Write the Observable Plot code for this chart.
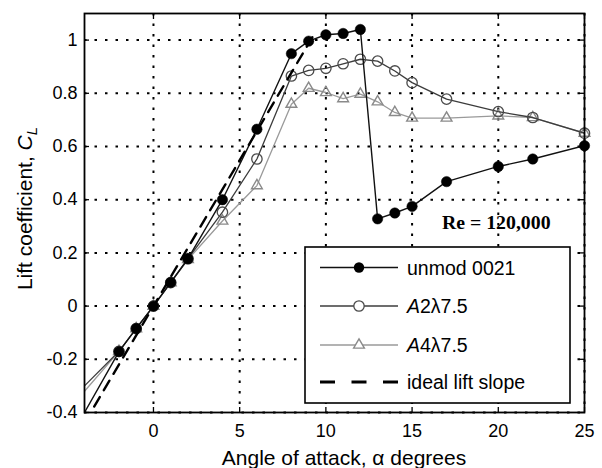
<!DOCTYPE html>
<html><head><meta charset="utf-8">
<script src="https://cdn.jsdelivr.net/npm/d3@7"></script>
<script src="https://cdn.jsdelivr.net/npm/@observablehq/plot@0.6"></script>
<style>
body{margin:0;background:#fff}
svg{font-family:"Liberation Sans",Arial,Helvetica,sans-serif}
</style>
</head><body><div id="chart"></div>
<script>
// angle of attack (deg); -4 is where the lines leave the axes (no marker there)
const alpha  = [-4, -2, -1, 0, 1, 2, 4, 6, 8, 9, 10, 11, 12, 13, 14, 15, 17, 20, 22, 25];
const unmod  = [-0.40, -0.171, -0.084, 0, 0.089, 0.178, 0.40, 0.665, 0.949, 0.996, 1.02, 1.025, 1.04, 0.328, 0.35, 0.375, 0.468, 0.525, 0.553, 0.603];
const a2     = [-0.30, -0.170, -0.085, 0, 0.088, 0.178, 0.353, 0.553, 0.865, 0.886, 0.894, 0.911, 0.928, 0.921, 0.884, 0.84, 0.778, 0.731, 0.709, 0.650];
const a4     = [-0.32, -0.170, -0.085, 0, 0.088, 0.175, 0.32, 0.453, 0.759, 0.819, 0.803, 0.780, 0.797, 0.768, 0.728, 0.707, 0.707, 0.715, 0.709, 0.650];
const idealAlpha = [-4, 9.4];
const idealCL    = [-0.439, 1.031];
const xTicks = [0, 5, 10, 15, 20, 25];
const yTicks = [-0.4, -0.2, 0, 0.2, 0.4, 0.6, 0.8, 1];
const yTickLabels = ["-0.4", "-0.2", "0", "0.2", "0.4", "0.6", "0.8", "1"];
const seriesNames = ["unmod 0021", "A2λ7.5", "A4λ7.5", "ideal lift slope"];
const xLabel = "Angle of attack, α degrees";
const yLabel = "Lift coefficient, ";
const annotation = "Re = 120,000";

const rows = ys => alpha.map((a, i) => ({a, cl: ys[i]}));
const U = rows(unmod), B = rows(a2), C = rows(a4);
const ideal = idealAlpha.map((a, i) => ({a, cl: idealCL[i]}));
const withMarker = d => d.filter(p => p.a > -4);

const gridStyle = {stroke: "black", strokeOpacity: 1, strokeWidth: 2, strokeDasharray: "2.5,8"};

const chart = Plot.plot({
  width: 602, height: 468,
  marginLeft: 84, marginRight: 18, marginTop: 13, marginBottom: 56,
  x: {domain: [-4, 25]},
  y: {domain: [-0.4, 1.1]},
  style: {fontFamily: '"Liberation Sans",Arial,sans-serif', fontSize: "18px", color: "black", background: "white", overflow: "visible"},
  marks: [
    Plot.gridX(xTicks, gridStyle),
    Plot.gridY(yTicks, gridStyle),
    Plot.line(C, {x: "a", y: "cl", stroke: "#9a9a9a", strokeWidth: 1.3, clip: true}),
    Plot.dot(withMarker(C), {x: "a", y: "cl", symbol: "triangle", r: 4, stroke: "#8a8a8a", fill: "none", strokeWidth: 1.4}),
    Plot.line(B, {x: "a", y: "cl", stroke: "#3c3c3c", strokeWidth: 1.3, clip: true}),
    Plot.dot(withMarker(B), {x: "a", y: "cl", r: 5.2, stroke: "#4a4a4a", fill: "none", strokeWidth: 1.3}),
    Plot.line(U, {x: "a", y: "cl", stroke: "#111", strokeWidth: 1.4, clip: true}),
    Plot.dot(withMarker(U), {x: "a", y: "cl", r: 5.2, fill: "black", stroke: "black", strokeWidth: 0.5}),
    Plot.line(ideal, {x: "a", y: "cl", stroke: "black", strokeWidth: 2.4, strokeDasharray: "11,8", clip: true}),
    Plot.axisX(xTicks, {anchor: "bottom", tickSize: 0, tickPadding: 12, label: null, fontSize: 18}),
    Plot.axisY(yTicks, {anchor: "left", tickSize: 0, tickPadding: 7, label: null, fontSize: 18,
      tickFormat: d => yTickLabels[yTicks.indexOf(d)]}),
    Plot.axisX(xTicks, {anchor: "bottom", tickSize: -5, tickFormat: () => "", label: null, strokeWidth: 1.3}),
    Plot.axisX(xTicks, {anchor: "top", tickSize: -5, tickFormat: () => "", label: null, strokeWidth: 1.3}),
    Plot.axisY(yTicks, {anchor: "left", tickSize: -5, tickFormat: () => "", label: null, strokeWidth: 1.3}),
    Plot.axisY(yTicks, {anchor: "right", tickSize: -5, tickFormat: () => "", label: null, strokeWidth: 1.3}),
    Plot.frame({stroke: "black", strokeWidth: 1.8})
  ]
});
document.getElementById("chart").appendChild(chart);

// annotations, axis titles and legend (layout only)
const svg = d3.select(chart);
svg.append("text").attr("x", 442).attr("y", 229).attr("text-anchor", "start")
  .attr("font-family", '"Liberation Serif","Times New Roman",serif').attr("font-weight", "bold")
  .attr("font-size", 19.8).attr("fill", "black").text(annotation);

svg.append("text").attr("x", 344).attr("y", 465).attr("text-anchor", "middle")
  .attr("font-size", 21).attr("fill", "black").text(xLabel);

const yl = svg.append("text").attr("transform", "translate(31.5,208.5) rotate(-90)")
  .attr("text-anchor", "middle").attr("font-size", 21).attr("fill", "black");
yl.append("tspan").text(yLabel);
yl.append("tspan").attr("font-style", "italic").text("C");
yl.append("tspan").attr("font-style", "italic").attr("font-size", 15).attr("dy", 5).text("L");

const lg = svg.append("g");
lg.append("rect").attr("x", 305).attr("y", 247).attr("width", 265).attr("height", 156)
  .attr("fill", "white").attr("stroke", "black").attr("stroke-width", 1.6);
const entryY = [267.5, 306, 345, 382];
const lineCol = ["#111", "#3c3c3c", "#9a9a9a", "black"];
seriesNames.forEach((name, i) => {
  const y = entryY[i];
  const ln = lg.append("line").attr("x1", 320).attr("x2", 398).attr("y1", y).attr("y2", y)
    .attr("stroke", lineCol[i]).attr("stroke-width", i === 3 ? 3 : 1.4);
  if (i === 3) ln.attr("stroke-dasharray", "15,16.5");
  if (i === 0) lg.append("circle").attr("cx", 359).attr("cy", y).attr("r", 5.2).attr("fill", "black");
  if (i === 1) lg.append("circle").attr("cx", 359).attr("cy", y).attr("r", 5.2).attr("fill", "white").attr("stroke", "#4a4a4a").attr("stroke-width", 1.3);
  if (i === 2) lg.append("path").attr("d", d3.symbol(d3.symbolTriangle, Math.PI * 16)())
    .attr("transform", `translate(359,${y})`).attr("fill", "white").attr("stroke", "#8a8a8a").attr("stroke-width", 1.4);
  const t = lg.append("text").attr("x", 407).attr("y", y + 7).attr("text-anchor", "start")
    .attr("font-size", 19.5).attr("fill", "black");
  if (name.startsWith("A")) {
    t.append("tspan").attr("font-style", "italic").text(name[0]);
    t.append("tspan").text(name.slice(1));
  } else t.text(name);
});
</script>
</body></html>
